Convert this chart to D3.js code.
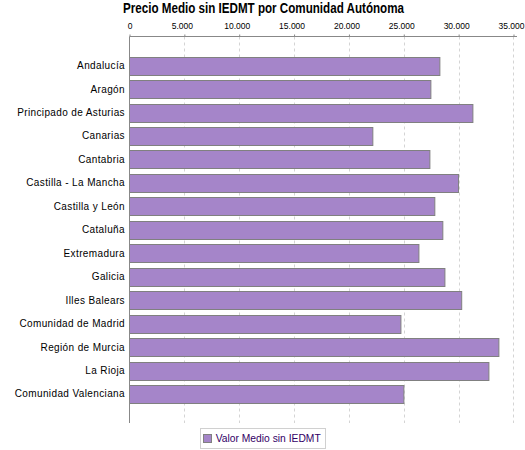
<!DOCTYPE html>
<html>
<head>
<meta charset="utf-8">
<script src="https://cdn.jsdelivr.net/npm/d3@7/dist/d3.min.js"></script>
<style>
  html, body { margin: 0; padding: 0; background: #fff; }
  svg { display: block; }
</style>
</head>
<body>
<svg id="chart" width="525" height="450"></svg>
<script>
const title = "Precio Medio sin IEDMT por Comunidad Autónoma";
const seriesName = "Valor Medio sin IEDMT";
const categories = [
  "Andalucía", "Aragón", "Principado de Asturias", "Canarias", "Cantabria",
  "Castilla - La Mancha", "Castilla y León", "Cataluña", "Extremadura", "Galicia",
  "Illes Balears", "Comunidad de Madrid", "Región de Murcia", "La Rioja", "Comunidad Valenciana"
];
const values = [
  28290, 27470, 31300, 22180, 27380,
  29990, 27830, 28560, 26380, 28750,
  30280, 24740, 33670, 32760, 25010
];
const tickValues = [0, 5000, 10000, 15000, 20000, 25000, 30000, 35000];
const tickLabels = ["0", "5.000", "10.000", "15.000", "20.000", "25.000", "30.000", "35.000"];
const domainMax = 35320;

const svg = d3.select("#chart");
const plot = { left: 129.5, right: 517, top: 36.5, bottom: 423 };

const x = d3.scaleLinear().domain([0, domainMax]).range([plot.left, plot.right]);
const y = d3.scaleBand().domain(categories).range([plot.top, plot.bottom])
  .paddingInner(0.24).paddingOuter(0.86);

// Title
svg.append("text")
  .attr("x", 263.5).attr("y", 12.7)
  .attr("text-anchor", "middle")
  .attr("font-family", "Liberation Sans, Arial, sans-serif")
  .attr("font-weight", "bold")
  .attr("font-size", 14)
  .attr("textLength", 281).attr("lengthAdjust", "spacingAndGlyphs")
  .attr("fill", "#000")
  .text(title);

// Gridlines
svg.append("g").selectAll("line").data(tickValues.slice(1)).join("line")
  .attr("x1", d => Math.round(x(d)) + 0.5).attr("x2", d => Math.round(x(d)) + 0.5)
  .attr("y1", plot.top).attr("y2", plot.bottom)
  .attr("stroke", "#d4d4d4").attr("stroke-width", 1)
  .attr("stroke-dasharray", "3,3");

// Top axis
const axis = d3.axisTop(x).tickValues(tickValues)
  .tickFormat((d, i) => tickLabels[i]).tickSize(2).tickSizeOuter(0);
const gAxis = svg.append("g").attr("transform", `translate(0,${plot.top})`).call(axis);
gAxis.select(".domain").remove();
gAxis.selectAll(".tick line").attr("stroke", "#888");
gAxis.selectAll(".tick text")
  .attr("font-family", "Liberation Sans, Arial, sans-serif")
  .attr("font-size", 8.5)
  .attr("fill", "#000")
  .attr("dx", (d, i) => i === 0 ? 0 : -2.5)
  .attr("y", -8);
svg.append("line")
  .attr("x1", plot.left).attr("x2", plot.right)
  .attr("y1", plot.top).attr("y2", plot.top)
  .attr("stroke", "#888").attr("stroke-width", 1);

// Bars
svg.append("g").selectAll("rect").data(categories).join("rect")
  .attr("x", x(0))
  .attr("y", d => Math.round(y(d)) + 0.5)
  .attr("width", (d, i) => x(values[i]) - x(0))
  .attr("height", Math.round(y.bandwidth()))
  .attr("fill", "#a585c9")
  .attr("stroke", "#808080")
  .attr("stroke-width", 1);

// Left axis line
svg.append("line")
  .attr("x1", plot.left).attr("x2", plot.left)
  .attr("y1", plot.top).attr("y2", plot.bottom)
  .attr("stroke", "#888").attr("stroke-width", 1);

// Category labels
svg.append("g").selectAll("text").data(categories).join("text")
  .attr("x", 125)
  .attr("y", d => y(d) + y.bandwidth() / 2)
  .attr("dy", "0.35em")
  .attr("text-anchor", "end")
  .attr("font-family", "Liberation Sans, Arial, sans-serif")
  .attr("font-size", 10)
  .attr("letter-spacing", 0.38)
  .attr("fill", "#000")
  .text(d => d);

// Legend
const lg = svg.append("g");
lg.append("rect")
  .attr("x", 200.5).attr("y", 428.5).attr("width", 125).attr("height", 20)
  .attr("fill", "#fff").attr("stroke", "#d0d0d0");
lg.append("rect")
  .attr("x", 203.5).attr("y", 434.5).attr("width", 8).attr("height", 8)
  .attr("fill", "#a585c9").attr("stroke", "#808080");
lg.append("text")
  .attr("x", 215.7).attr("y", 442.3)
  .attr("font-family", "Liberation Sans, Arial, sans-serif")
  .attr("font-size", 11.5)
  .attr("textLength", 105).attr("lengthAdjust", "spacingAndGlyphs")
  .attr("fill", "#330066")
  .text(seriesName);
</script>
</body>
</html>
